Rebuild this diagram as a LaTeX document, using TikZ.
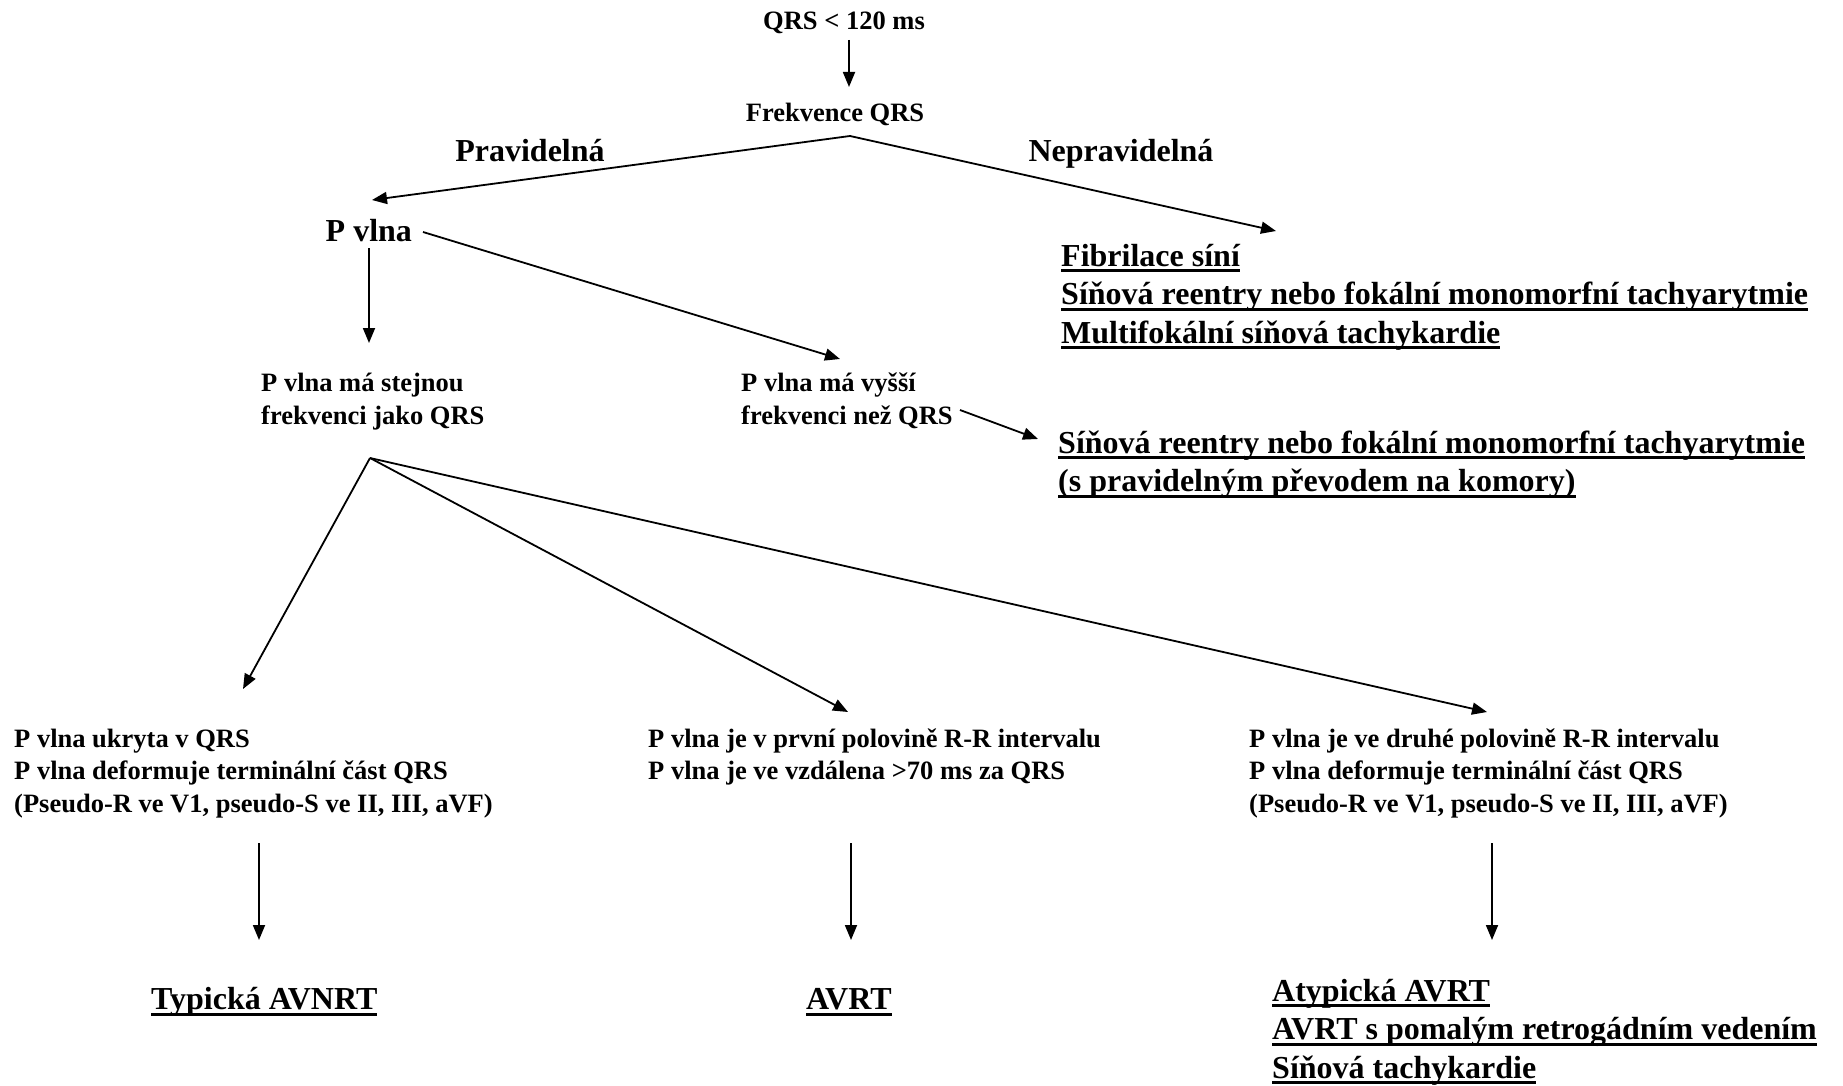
\documentclass[tikz,border=0pt]{standalone}
\usepackage{fontspec}
\setmainfont{Liberation Serif}
\usetikzlibrary{arrows.meta}
\newcommand\ulx[1]{\setbox0=\hbox{#1}\rlap{\rule[-6pt]{\wd0}{3pt}}\box0}
\newcommand\strS{\rule{0pt}{20pt}}
\newcommand\strL{\rule{0pt}{24pt}}
\tikzset{
  smalltxt/.style={font=\bfseries\fontsize{26.5}{32.5}\selectfont, inner sep=0pt, align=left},
  largetxt/.style={font=\bfseries\fontsize{32}{38.5}\selectfont, inner sep=0pt, align=left},
  arr/.style={-{Triangle[length=15pt,width=12pt]}, line width=1.8pt},
}
\begin{document}
\begin{tikzpicture}[x=1pt,y=-1pt]
\useasboundingbox (0,0) rectangle (1843,1086);
% text nodes
\node[smalltxt,anchor=base] (qrs) at (844,29.5) {QRS < 120 ms};
\node[smalltxt,anchor=base] (frek) at (835,121.5) {Frekvence QRS};
\node[largetxt,anchor=base] (prav) at (530,162) {Pravidelná};
\node[largetxt,anchor=base] (neprav) at (1121,162) {Nepravidelná};
\node[largetxt,anchor=base west] (pvlna) at (325.5,241) {P vlna};
\node[largetxt,anchor=north west] (fib) at (1061,242) {\strL\ulx{Fibrilace síní}\\\ulx{Síňová reentry nebo fokální monomorfní tachyarytmie}\\\ulx{Multifokální síňová tachykardie}};
\node[smalltxt,anchor=north west] (stej) at (261,371.5) {\strS P vlna má stejnou\\frekvenci jako QRS};
\node[smalltxt,anchor=north west] (vyssi) at (741,371.5) {\strS P vlna má vyšší\\frekvenci než QRS};
\node[largetxt,anchor=north west] (sinr) at (1058,429) {\strL\ulx{Síňová reentry nebo fokální monomorfní tachyarytmie}\\\ulx{(s pravidelným převodem na komory)}};
\node[smalltxt,anchor=north west] (ukr) at (14,727) {\strS P vlna ukryta v QRS\\P vlna deformuje terminální část QRS\\(Pseudo-R ve V1, pseudo-S ve II, III, aVF)};
\node[smalltxt,anchor=north west] (prvni) at (648,727) {\strS P vlna je v první polovině R-R intervalu\\P vlna je ve vzdálena >70 ms za QRS};
\node[smalltxt,anchor=north west] (druhe) at (1249,727) {\strS P vlna je ve druhé polovině R-R intervalu\\P vlna deformuje terminální část QRS\\(Pseudo-R ve V1, pseudo-S ve II, III, aVF)};
\node[largetxt,anchor=base west] (typ) at (151,1009.5) {\ulx{Typická AVNRT}};
\node[largetxt,anchor=base west] (avrt) at (806,1009.5) {\ulx{AVRT}};
\node[largetxt,anchor=north west] (atyp) at (1272,977) {\strL\ulx{Atypická AVRT}\\\ulx{AVRT s pomalým retrogádním vedením}\\\ulx{Síňová tachykardie}};
% connector end points
\coordinate (qrs-out) at (849,40);
\coordinate (frek-in) at (849,87);
\coordinate (frek-out) at (850,136);
\coordinate (pvlna-in) at (372,200);
\coordinate (fib-in) at (1276,231);
\coordinate (pvlna-down) at (369,248);
\coordinate (stej-in) at (369,343);
\coordinate (pvlna-diag) at (423,232);
\coordinate (vyssi-in) at (840,359);
\coordinate (vyssi-out) at (960,410);
\coordinate (sinr-in) at (1038,439);
\coordinate (stej-out) at (370,458);
\coordinate (ukr-in) at (243,689);
\coordinate (prvni-in) at (848,712);
\coordinate (druhe-in) at (1487,712);
\coordinate (ukr-out) at (259,843);
\coordinate (typ-in) at (259,940);
\coordinate (prvni-out) at (851,843);
\coordinate (avrt-in) at (851,940);
\coordinate (druhe-out) at (1492,843);
\coordinate (atyp-in) at (1492,940);
% connectors
\draw[arr] (qrs-out) -- (frek-in);
\draw[arr] (frek-out) -- (pvlna-in);
\draw[arr] (frek-out) -- (fib-in);
\draw[arr] (pvlna-down) -- (stej-in);
\draw[arr] (pvlna-diag) -- (vyssi-in);
\draw[arr] (vyssi-out) -- (sinr-in);
\draw[arr] (stej-out) -- (ukr-in);
\draw[arr] (stej-out) -- (prvni-in);
\draw[arr] (stej-out) -- (druhe-in);
\draw[arr] (ukr-out) -- (typ-in);
\draw[arr] (prvni-out) -- (avrt-in);
\draw[arr] (druhe-out) -- (atyp-in);
\end{tikzpicture}
\end{document}
